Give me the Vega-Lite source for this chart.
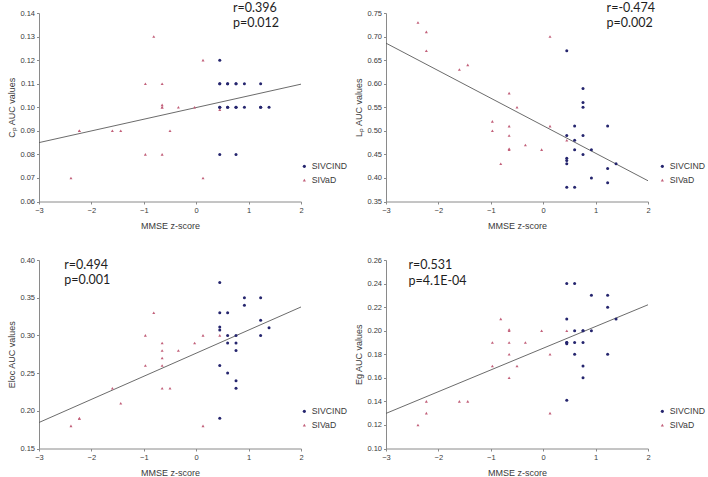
{
  "$schema": "https://vega.github.io/schema/vega-lite/v6.json",
  "background": "white",
  "padding": {"left": 7, "top": 1, "right": 15, "bottom": 0},
  "config": {
    "view": {"stroke": null},
    "axis": {
      "grid": false,
      "domainColor": "#8a8a8a",
      "tickColor": "#8a8a8a",
      "tickSize": 2.5,
      "labelFont": "Liberation Sans",
      "labelFontSize": 7.5,
      "labelColor": "#3a3a3a",
      "labelPadding": 2,
      "titleFont": "Liberation Sans",
      "titleFontSize": 9,
      "titleFontWeight": "normal",
      "titleColor": "#3a3a3a"
    },
    "legend": {
      "labelFont": "Liberation Sans",
      "labelFontSize": 8.7,
      "labelColor": "#3a3a3a",
      "symbolSize": 10,
      "rowPadding": 3.7,
      "labelOffset": 3,
      "padding": 0,
      "offset": 0
    }
  },
  "datasets": {
    "pts": [
      {"panel": "Cp", "group": "SIVaD", "x": -2.39, "y": 0.07},
      {"panel": "Cp", "group": "SIVaD", "x": -2.23, "y": 0.09},
      {"panel": "Cp", "group": "SIVaD", "x": -2.23, "y": 0.09},
      {"panel": "Cp", "group": "SIVaD", "x": -1.60, "y": 0.09},
      {"panel": "Cp", "group": "SIVaD", "x": -1.44, "y": 0.09},
      {"panel": "Cp", "group": "SIVaD", "x": -0.97, "y": 0.11},
      {"panel": "Cp", "group": "SIVaD", "x": -0.97, "y": 0.08},
      {"panel": "Cp", "group": "SIVaD", "x": -0.81, "y": 0.13},
      {"panel": "Cp", "group": "SIVaD", "x": -0.65, "y": 0.11},
      {"panel": "Cp", "group": "SIVaD", "x": -0.65, "y": 0.101},
      {"panel": "Cp", "group": "SIVaD", "x": -0.65, "y": 0.10},
      {"panel": "Cp", "group": "SIVaD", "x": -0.65, "y": 0.10},
      {"panel": "Cp", "group": "SIVaD", "x": -0.65, "y": 0.08},
      {"panel": "Cp", "group": "SIVaD", "x": -0.50, "y": 0.09},
      {"panel": "Cp", "group": "SIVaD", "x": -0.34, "y": 0.10},
      {"panel": "Cp", "group": "SIVaD", "x": -0.03, "y": 0.10},
      {"panel": "Cp", "group": "SIVaD", "x": 0.13, "y": 0.12},
      {"panel": "Cp", "group": "SIVaD", "x": 0.13, "y": 0.07},
      {"panel": "Cp", "group": "SIVaD", "x": 0.45, "y": 0.099},
      {"panel": "Cp", "group": "SIVCIND", "x": 0.45, "y": 0.12},
      {"panel": "Cp", "group": "SIVCIND", "x": 0.45, "y": 0.11},
      {"panel": "Cp", "group": "SIVCIND", "x": 0.45, "y": 0.11},
      {"panel": "Cp", "group": "SIVCIND", "x": 0.45, "y": 0.10},
      {"panel": "Cp", "group": "SIVCIND", "x": 0.45, "y": 0.10},
      {"panel": "Cp", "group": "SIVCIND", "x": 0.45, "y": 0.08},
      {"panel": "Cp", "group": "SIVCIND", "x": 0.60, "y": 0.11},
      {"panel": "Cp", "group": "SIVCIND", "x": 0.60, "y": 0.11},
      {"panel": "Cp", "group": "SIVCIND", "x": 0.60, "y": 0.10},
      {"panel": "Cp", "group": "SIVCIND", "x": 0.60, "y": 0.10},
      {"panel": "Cp", "group": "SIVCIND", "x": 0.76, "y": 0.11},
      {"panel": "Cp", "group": "SIVCIND", "x": 0.76, "y": 0.11},
      {"panel": "Cp", "group": "SIVCIND", "x": 0.76, "y": 0.10},
      {"panel": "Cp", "group": "SIVCIND", "x": 0.76, "y": 0.10},
      {"panel": "Cp", "group": "SIVCIND", "x": 0.76, "y": 0.08},
      {"panel": "Cp", "group": "SIVCIND", "x": 0.92, "y": 0.11},
      {"panel": "Cp", "group": "SIVCIND", "x": 0.92, "y": 0.10},
      {"panel": "Cp", "group": "SIVCIND", "x": 1.23, "y": 0.11},
      {"panel": "Cp", "group": "SIVCIND", "x": 1.23, "y": 0.10},
      {"panel": "Cp", "group": "SIVCIND", "x": 1.23, "y": 0.10},
      {"panel": "Cp", "group": "SIVCIND", "x": 1.39, "y": 0.10},

      {"panel": "Lp", "group": "SIVaD", "x": -2.39, "y": 0.73},
      {"panel": "Lp", "group": "SIVaD", "x": -2.23, "y": 0.71},
      {"panel": "Lp", "group": "SIVaD", "x": -2.23, "y": 0.67},
      {"panel": "Lp", "group": "SIVaD", "x": -1.60, "y": 0.63},
      {"panel": "Lp", "group": "SIVaD", "x": -1.44, "y": 0.64},
      {"panel": "Lp", "group": "SIVaD", "x": -0.97, "y": 0.52},
      {"panel": "Lp", "group": "SIVaD", "x": -0.97, "y": 0.50},
      {"panel": "Lp", "group": "SIVaD", "x": -0.81, "y": 0.43},
      {"panel": "Lp", "group": "SIVaD", "x": -0.65, "y": 0.58},
      {"panel": "Lp", "group": "SIVaD", "x": -0.65, "y": 0.51},
      {"panel": "Lp", "group": "SIVaD", "x": -0.65, "y": 0.49},
      {"panel": "Lp", "group": "SIVaD", "x": -0.65, "y": 0.462},
      {"panel": "Lp", "group": "SIVaD", "x": -0.65, "y": 0.46},
      {"panel": "Lp", "group": "SIVaD", "x": -0.50, "y": 0.55},
      {"panel": "Lp", "group": "SIVaD", "x": -0.34, "y": 0.47},
      {"panel": "Lp", "group": "SIVaD", "x": -0.03, "y": 0.46},
      {"panel": "Lp", "group": "SIVaD", "x": 0.13, "y": 0.70},
      {"panel": "Lp", "group": "SIVaD", "x": 0.13, "y": 0.51},
      {"panel": "Lp", "group": "SIVaD", "x": 0.45, "y": 0.48},
      {"panel": "Lp", "group": "SIVCIND", "x": 0.45, "y": 0.67},
      {"panel": "Lp", "group": "SIVCIND", "x": 0.45, "y": 0.49},
      {"panel": "Lp", "group": "SIVCIND", "x": 0.45, "y": 0.442},
      {"panel": "Lp", "group": "SIVCIND", "x": 0.45, "y": 0.437},
      {"panel": "Lp", "group": "SIVCIND", "x": 0.45, "y": 0.43},
      {"panel": "Lp", "group": "SIVCIND", "x": 0.45, "y": 0.38},
      {"panel": "Lp", "group": "SIVCIND", "x": 0.60, "y": 0.51},
      {"panel": "Lp", "group": "SIVCIND", "x": 0.60, "y": 0.48},
      {"panel": "Lp", "group": "SIVCIND", "x": 0.60, "y": 0.46},
      {"panel": "Lp", "group": "SIVCIND", "x": 0.60, "y": 0.38},
      {"panel": "Lp", "group": "SIVCIND", "x": 0.76, "y": 0.59},
      {"panel": "Lp", "group": "SIVCIND", "x": 0.76, "y": 0.56},
      {"panel": "Lp", "group": "SIVCIND", "x": 0.76, "y": 0.55},
      {"panel": "Lp", "group": "SIVCIND", "x": 0.76, "y": 0.49},
      {"panel": "Lp", "group": "SIVCIND", "x": 0.76, "y": 0.45},
      {"panel": "Lp", "group": "SIVCIND", "x": 0.92, "y": 0.46},
      {"panel": "Lp", "group": "SIVCIND", "x": 0.92, "y": 0.40},
      {"panel": "Lp", "group": "SIVCIND", "x": 1.23, "y": 0.51},
      {"panel": "Lp", "group": "SIVCIND", "x": 1.23, "y": 0.42},
      {"panel": "Lp", "group": "SIVCIND", "x": 1.23, "y": 0.39},
      {"panel": "Lp", "group": "SIVCIND", "x": 1.39, "y": 0.43},

      {"panel": "Eloc", "group": "SIVaD", "x": -2.39, "y": 0.18},
      {"panel": "Eloc", "group": "SIVaD", "x": -2.23, "y": 0.19},
      {"panel": "Eloc", "group": "SIVaD", "x": -2.23, "y": 0.19},
      {"panel": "Eloc", "group": "SIVaD", "x": -1.60, "y": 0.23},
      {"panel": "Eloc", "group": "SIVaD", "x": -1.44, "y": 0.21},
      {"panel": "Eloc", "group": "SIVaD", "x": -0.97, "y": 0.30},
      {"panel": "Eloc", "group": "SIVaD", "x": -0.97, "y": 0.26},
      {"panel": "Eloc", "group": "SIVaD", "x": -0.81, "y": 0.33},
      {"panel": "Eloc", "group": "SIVaD", "x": -0.65, "y": 0.29},
      {"panel": "Eloc", "group": "SIVaD", "x": -0.65, "y": 0.28},
      {"panel": "Eloc", "group": "SIVaD", "x": -0.65, "y": 0.27},
      {"panel": "Eloc", "group": "SIVaD", "x": -0.65, "y": 0.26},
      {"panel": "Eloc", "group": "SIVaD", "x": -0.65, "y": 0.23},
      {"panel": "Eloc", "group": "SIVaD", "x": -0.50, "y": 0.23},
      {"panel": "Eloc", "group": "SIVaD", "x": -0.34, "y": 0.28},
      {"panel": "Eloc", "group": "SIVaD", "x": -0.03, "y": 0.29},
      {"panel": "Eloc", "group": "SIVaD", "x": 0.13, "y": 0.30},
      {"panel": "Eloc", "group": "SIVaD", "x": 0.13, "y": 0.18},
      {"panel": "Eloc", "group": "SIVaD", "x": 0.45, "y": 0.30},
      {"panel": "Eloc", "group": "SIVCIND", "x": 0.45, "y": 0.37},
      {"panel": "Eloc", "group": "SIVCIND", "x": 0.45, "y": 0.33},
      {"panel": "Eloc", "group": "SIVCIND", "x": 0.45, "y": 0.311},
      {"panel": "Eloc", "group": "SIVCIND", "x": 0.45, "y": 0.307},
      {"panel": "Eloc", "group": "SIVCIND", "x": 0.45, "y": 0.26},
      {"panel": "Eloc", "group": "SIVCIND", "x": 0.45, "y": 0.19},
      {"panel": "Eloc", "group": "SIVCIND", "x": 0.60, "y": 0.33},
      {"panel": "Eloc", "group": "SIVCIND", "x": 0.60, "y": 0.30},
      {"panel": "Eloc", "group": "SIVCIND", "x": 0.60, "y": 0.29},
      {"panel": "Eloc", "group": "SIVCIND", "x": 0.60, "y": 0.25},
      {"panel": "Eloc", "group": "SIVCIND", "x": 0.76, "y": 0.30},
      {"panel": "Eloc", "group": "SIVCIND", "x": 0.76, "y": 0.29},
      {"panel": "Eloc", "group": "SIVCIND", "x": 0.76, "y": 0.28},
      {"panel": "Eloc", "group": "SIVCIND", "x": 0.76, "y": 0.24},
      {"panel": "Eloc", "group": "SIVCIND", "x": 0.76, "y": 0.23},
      {"panel": "Eloc", "group": "SIVCIND", "x": 0.92, "y": 0.35},
      {"panel": "Eloc", "group": "SIVCIND", "x": 0.92, "y": 0.34},
      {"panel": "Eloc", "group": "SIVCIND", "x": 1.23, "y": 0.35},
      {"panel": "Eloc", "group": "SIVCIND", "x": 1.23, "y": 0.32},
      {"panel": "Eloc", "group": "SIVCIND", "x": 1.23, "y": 0.30},
      {"panel": "Eloc", "group": "SIVCIND", "x": 1.39, "y": 0.31},

      {"panel": "Eg", "group": "SIVaD", "x": -2.39, "y": 0.12},
      {"panel": "Eg", "group": "SIVaD", "x": -2.23, "y": 0.14},
      {"panel": "Eg", "group": "SIVaD", "x": -2.23, "y": 0.13},
      {"panel": "Eg", "group": "SIVaD", "x": -1.60, "y": 0.14},
      {"panel": "Eg", "group": "SIVaD", "x": -1.44, "y": 0.14},
      {"panel": "Eg", "group": "SIVaD", "x": -0.97, "y": 0.19},
      {"panel": "Eg", "group": "SIVaD", "x": -0.97, "y": 0.17},
      {"panel": "Eg", "group": "SIVaD", "x": -0.81, "y": 0.21},
      {"panel": "Eg", "group": "SIVaD", "x": -0.65, "y": 0.201},
      {"panel": "Eg", "group": "SIVaD", "x": -0.65, "y": 0.20},
      {"panel": "Eg", "group": "SIVaD", "x": -0.65, "y": 0.19},
      {"panel": "Eg", "group": "SIVaD", "x": -0.65, "y": 0.18},
      {"panel": "Eg", "group": "SIVaD", "x": -0.65, "y": 0.16},
      {"panel": "Eg", "group": "SIVaD", "x": -0.50, "y": 0.17},
      {"panel": "Eg", "group": "SIVaD", "x": -0.34, "y": 0.19},
      {"panel": "Eg", "group": "SIVaD", "x": -0.03, "y": 0.20},
      {"panel": "Eg", "group": "SIVaD", "x": 0.13, "y": 0.18},
      {"panel": "Eg", "group": "SIVaD", "x": 0.13, "y": 0.13},
      {"panel": "Eg", "group": "SIVaD", "x": 0.45, "y": 0.20},
      {"panel": "Eg", "group": "SIVCIND", "x": 0.45, "y": 0.24},
      {"panel": "Eg", "group": "SIVCIND", "x": 0.45, "y": 0.21},
      {"panel": "Eg", "group": "SIVCIND", "x": 0.45, "y": 0.19},
      {"panel": "Eg", "group": "SIVCIND", "x": 0.45, "y": 0.189},
      {"panel": "Eg", "group": "SIVCIND", "x": 0.45, "y": 0.19},
      {"panel": "Eg", "group": "SIVCIND", "x": 0.45, "y": 0.141},
      {"panel": "Eg", "group": "SIVCIND", "x": 0.60, "y": 0.24},
      {"panel": "Eg", "group": "SIVCIND", "x": 0.60, "y": 0.20},
      {"panel": "Eg", "group": "SIVCIND", "x": 0.60, "y": 0.19},
      {"panel": "Eg", "group": "SIVCIND", "x": 0.60, "y": 0.18},
      {"panel": "Eg", "group": "SIVCIND", "x": 0.76, "y": 0.20},
      {"panel": "Eg", "group": "SIVCIND", "x": 0.76, "y": 0.20},
      {"panel": "Eg", "group": "SIVCIND", "x": 0.76, "y": 0.19},
      {"panel": "Eg", "group": "SIVCIND", "x": 0.76, "y": 0.17},
      {"panel": "Eg", "group": "SIVCIND", "x": 0.76, "y": 0.16},
      {"panel": "Eg", "group": "SIVCIND", "x": 0.92, "y": 0.23},
      {"panel": "Eg", "group": "SIVCIND", "x": 0.92, "y": 0.20},
      {"panel": "Eg", "group": "SIVCIND", "x": 1.23, "y": 0.23},
      {"panel": "Eg", "group": "SIVCIND", "x": 1.23, "y": 0.22},
      {"panel": "Eg", "group": "SIVCIND", "x": 1.23, "y": 0.18},
      {"panel": "Eg", "group": "SIVCIND", "x": 1.39, "y": 0.21}
    ],
    "fits": [
      {"panel": "Cp", "x": -3, "y": 0.0850},
      {"panel": "Cp", "x": 2, "y": 0.1098},
      {"panel": "Lp", "x": -3, "y": 0.686},
      {"panel": "Lp", "x": 2, "y": 0.394},
      {"panel": "Eloc", "x": -3, "y": 0.1845},
      {"panel": "Eloc", "x": 2, "y": 0.3377},
      {"panel": "Eg", "x": -3, "y": 0.1298},
      {"panel": "Eg", "x": 2, "y": 0.222}
    ],
    "notes": [
      {"panel": "Cp", "x": 0.70, "y": 0.1406, "label": "r=0.396"},
      {"panel": "Cp", "x": 0.70, "y": 0.1339, "label": "p=0.012"},
      {"panel": "Lp", "x": 1.21, "y": 0.7528, "label": "r=-0.474"},
      {"panel": "Lp", "x": 1.21, "y": 0.7194, "label": "p=0.002"},
      {"panel": "Eloc", "x": -2.52, "y": 0.3886, "label": "r=0.494"},
      {"panel": "Eloc", "x": -2.52, "y": 0.3682, "label": "p=0.001"},
      {"panel": "Eg", "x": -2.57, "y": 0.2521, "label": "r=0.531"},
      {"panel": "Eg", "x": -2.57, "y": 0.2391, "label": "p=4.1E-04"}
    ]
  },
  "columns": 2,
  "bounds": "flush",
  "spacing": {"row": 58, "column": 85},
  "resolve": {"scale": {"color": "independent", "shape": "independent"}, "legend": {"color": "independent", "shape": "independent"}},
  "concat": [
    {
      "width": 262, "height": 188.5,
      "encoding": {
        "x": {"field": "x", "type": "quantitative", "scale": {"domain": [-3, 2], "nice": false, "zero": false}, "axis": {"title": "MMSE z-score", "values": [-3, -2, -1, 0, 1, 2], "format": "d", "labelFlush": false, "titlePadding": 8}},
        "y": {"field": "y", "type": "quantitative", "scale": {"domain": [0.06, 0.14], "nice": false, "zero": false}, "axis": {"title": "Cₚ AUC values", "values": [0.06, 0.07, 0.08, 0.09, 0.10, 0.11, 0.12, 0.13, 0.14], "format": ".2f", "titlePadding": 3}}
      },
      "layer": [
        {"data": {"name": "fits"}, "transform": [{"filter": "datum.panel == 'Cp'"}], "mark": {"type": "line", "color": "#5a5a5a", "strokeWidth": 0.9}},
        {"data": {"name": "pts"}, "transform": [{"filter": "datum.panel == 'Cp'"}], "mark": {"type": "point", "filled": true, "size": 9, "opacity": 1},
         "encoding": {
           "color": {"field": "group", "type": "nominal", "scale": {"domain": ["SIVCIND", "SIVaD"], "range": ["#25256e", "#c2607a"]}, "legend": {"title": null, "orient": "none", "legendX": 261, "legendY": 149}},
           "shape": {"field": "group", "type": "nominal", "scale": {"domain": ["SIVCIND", "SIVaD"], "range": ["circle", "triangle-up"]}, "legend": {"title": null, "orient": "none", "legendX": 261, "legendY": 149}}
         }},
        {"data": {"name": "notes"}, "transform": [{"filter": "datum.panel == 'Cp'"}], "mark": {"type": "text", "align": "left", "baseline": "alphabetic", "font": "Lato", "fontSize": 12.5, "color": "#1e1e1e"},
         "encoding": {"text": {"field": "label", "type": "nominal"}}}
      ]
    },
    {
      "width": 262, "height": 188.5,
      "encoding": {
        "x": {"field": "x", "type": "quantitative", "scale": {"domain": [-3, 2], "nice": false, "zero": false}, "axis": {"title": "MMSE z-score", "values": [-3, -2, -1, 0, 1, 2], "format": "d", "labelFlush": false, "titlePadding": 8}},
        "y": {"field": "y", "type": "quantitative", "scale": {"domain": [0.35, 0.75], "nice": false, "zero": false}, "axis": {"title": "Lₚ AUC values", "values": [0.35, 0.40, 0.45, 0.50, 0.55, 0.60, 0.65, 0.70, 0.75], "format": ".2f", "titlePadding": 3}}
      },
      "layer": [
        {"data": {"name": "fits"}, "transform": [{"filter": "datum.panel == 'Lp'"}], "mark": {"type": "line", "color": "#5a5a5a", "strokeWidth": 0.9}},
        {"data": {"name": "pts"}, "transform": [{"filter": "datum.panel == 'Lp'"}], "mark": {"type": "point", "filled": true, "size": 9, "opacity": 1},
         "encoding": {
           "color": {"field": "group", "type": "nominal", "scale": {"domain": ["SIVCIND", "SIVaD"], "range": ["#25256e", "#c2607a"]}, "legend": {"title": null, "orient": "none", "legendX": 272, "legendY": 149}},
           "shape": {"field": "group", "type": "nominal", "scale": {"domain": ["SIVCIND", "SIVaD"], "range": ["circle", "triangle-up"]}, "legend": {"title": null, "orient": "none", "legendX": 272, "legendY": 149}}
         }},
        {"data": {"name": "notes"}, "transform": [{"filter": "datum.panel == 'Lp'"}], "mark": {"type": "text", "align": "left", "baseline": "alphabetic", "font": "Lato", "fontSize": 12.5, "color": "#1e1e1e"},
         "encoding": {"text": {"field": "label", "type": "nominal"}}}
      ]
    },
    {
      "width": 262, "height": 188.5,
      "encoding": {
        "x": {"field": "x", "type": "quantitative", "scale": {"domain": [-3, 2], "nice": false, "zero": false}, "axis": {"title": "MMSE z-score", "values": [-3, -2, -1, 0, 1, 2], "format": "d", "labelFlush": false, "titlePadding": 8}},
        "y": {"field": "y", "type": "quantitative", "scale": {"domain": [0.15, 0.40], "nice": false, "zero": false}, "axis": {"title": "Eloc AUC values", "values": [0.15, 0.20, 0.25, 0.30, 0.35, 0.40], "format": ".2f", "titlePadding": 3}}
      },
      "layer": [
        {"data": {"name": "fits"}, "transform": [{"filter": "datum.panel == 'Eloc'"}], "mark": {"type": "line", "color": "#5a5a5a", "strokeWidth": 0.9}},
        {"data": {"name": "pts"}, "transform": [{"filter": "datum.panel == 'Eloc'"}], "mark": {"type": "point", "filled": true, "size": 9, "opacity": 1},
         "encoding": {
           "color": {"field": "group", "type": "nominal", "scale": {"domain": ["SIVCIND", "SIVaD"], "range": ["#25256e", "#c2607a"]}, "legend": {"title": null, "orient": "none", "legendX": 261, "legendY": 147}},
           "shape": {"field": "group", "type": "nominal", "scale": {"domain": ["SIVCIND", "SIVaD"], "range": ["circle", "triangle-up"]}, "legend": {"title": null, "orient": "none", "legendX": 261, "legendY": 147}}
         }},
        {"data": {"name": "notes"}, "transform": [{"filter": "datum.panel == 'Eloc'"}], "mark": {"type": "text", "align": "left", "baseline": "alphabetic", "font": "Lato", "fontSize": 12.5, "color": "#1e1e1e"},
         "encoding": {"text": {"field": "label", "type": "nominal"}}}
      ]
    },
    {
      "width": 262, "height": 188.5,
      "encoding": {
        "x": {"field": "x", "type": "quantitative", "scale": {"domain": [-3, 2], "nice": false, "zero": false}, "axis": {"title": "MMSE z-score", "values": [-3, -2, -1, 0, 1, 2], "format": "d", "labelFlush": false, "titlePadding": 8}},
        "y": {"field": "y", "type": "quantitative", "scale": {"domain": [0.10, 0.26], "nice": false, "zero": false}, "axis": {"title": "Eg AUC values", "values": [0.10, 0.12, 0.14, 0.16, 0.18, 0.20, 0.22, 0.24, 0.26], "format": ".2f", "titlePadding": 3}}
      },
      "layer": [
        {"data": {"name": "fits"}, "transform": [{"filter": "datum.panel == 'Eg'"}], "mark": {"type": "line", "color": "#5a5a5a", "strokeWidth": 0.9}},
        {"data": {"name": "pts"}, "transform": [{"filter": "datum.panel == 'Eg'"}], "mark": {"type": "point", "filled": true, "size": 9, "opacity": 1},
         "encoding": {
           "color": {"field": "group", "type": "nominal", "scale": {"domain": ["SIVCIND", "SIVaD"], "range": ["#25256e", "#c2607a"]}, "legend": {"title": null, "orient": "none", "legendX": 272, "legendY": 147}},
           "shape": {"field": "group", "type": "nominal", "scale": {"domain": ["SIVCIND", "SIVaD"], "range": ["circle", "triangle-up"]}, "legend": {"title": null, "orient": "none", "legendX": 272, "legendY": 147}}
         }},
        {"data": {"name": "notes"}, "transform": [{"filter": "datum.panel == 'Eg'"}], "mark": {"type": "text", "align": "left", "baseline": "alphabetic", "font": "Lato", "fontSize": 12.5, "color": "#1e1e1e"},
         "encoding": {"text": {"field": "label", "type": "nominal"}}}
      ]
    }
  ]
}
